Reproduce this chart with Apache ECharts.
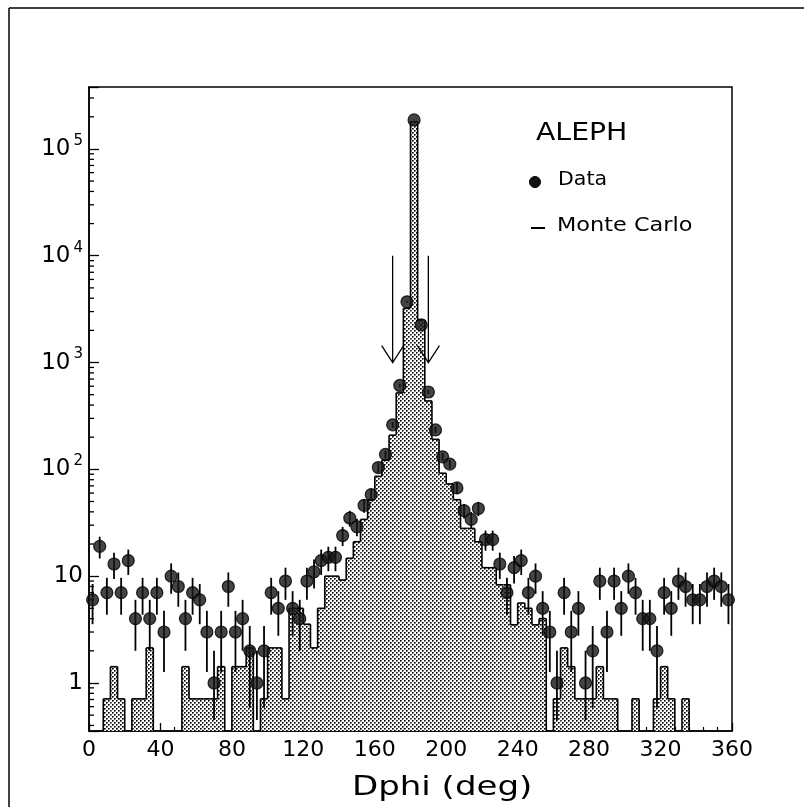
<!DOCTYPE html>
<html>
<head>
<meta charset="utf-8">
<script src="https://cdn.jsdelivr.net/npm/echarts@6/dist/echarts.min.js"></script>
<style>
html,body{margin:0;padding:0;background:#fff;}
#chart{width:804px;height:807px;}
</style>
</head>
<body>
<div id="chart"></div>
<script>
// ---- data (Dphi histogram, 4 degree bins from 0 to 360) ----
const binWidth = 4;
const binLow = [0,4,8,12,16,20,24,28,32,36,40,44,48,52,56,60,64,68,72,76,80,84,88,92,96,100,104,108,112,116,120,124,128,132,136,140,144,148,152,156,160,164,168,172,176,180,184,188,192,196,200,204,208,212,216,220,224,228,232,236,240,244,248,252,256,260,264,268,272,276,280,284,288,292,296,300,304,308,312,316,320,324,328,332,336,340,344,348,352,356];
const dataCounts = [6,19,7,13,7,14,4,7,4,7,3,10,8,4,7,6,3,1,3,8,3,4,2,1,2,7,5,9,5,4,9,11,14,15,15,24,35,29,46,58,104,138,261,610,3700,187000,2250,530,234,131,112,67,41,34,43,22,22,13,7,12,14,7,10,5,3,1,7,3,5,1,2,9,3,9,5,10,7,4,4,2,7,5,9,8,6,6,8,9,8,6];
const mcValues = [0,0,0.71,1.42,0.71,0,0.71,0.71,2.13,0,0,0,0,1.42,0.71,0.71,0.71,0.71,1.42,0,1.42,1.42,2.13,0,0.71,2.13,2.13,0.71,5.0,5.0,3.55,2.13,5.0,10,10,9.2,14.7,21,34,52,86,122,209,520,3220,180000,2500,437,191,92,73,52,28,28,21,12,12,8.3,8.3,3.5,5.6,5,3.5,4,0,0.71,2.13,1.42,0.71,0.71,0.71,1.42,0.71,0.71,0,0,0.71,0,0,0.71,1.42,0.71,0,0.71,0,0,0,0,0,0];
const xTicks = [0,40,80,120,160,200,240,280,320,360];
const yMinorTicks = [0.4,0.5,0.6,0.7,0.8,0.9,2,3,4,5,6,7,8,9,20,30,40,50,60,70,80,90,200,300,400,500,600,700,800,900,2000,3000,4000,5000,6000,7000,8000,9000,20000,30000,40000,50000,60000,70000,80000,90000,200000,300000];
const cutArrows = [170,190];
const arrowFrom = 10000, arrowTo = 1000;

const chart = echarts.init(document.getElementById('chart'), null, {renderer:'canvas'});

// stipple pattern for the Monte Carlo histogram
const pc = document.createElement('canvas');
pc.width = 4; pc.height = 4;
const pctx = pc.getContext('2d');
pctx.fillStyle = '#fff'; pctx.fillRect(0,0,4,4);
pctx.fillStyle = '#000';
pctx.fillRect(0,0,1,1); pctx.fillRect(2,2,1,1);
pctx.fillStyle = '#555';
pctx.fillRect(1,0,1,1); pctx.fillRect(3,2,1,1); pctx.fillRect(0,1,1,1); pctx.fillRect(2,3,1,1);
pctx.fillStyle = '#aaa';
pctx.fillRect(1,1,1,1); pctx.fillRect(3,3,1,1);
const pattern = {image: pc, repeat: 'repeat'};

const FONT = 'DejaVu Sans';

function histItem(params, api) {
  const i = params.dataIndex;
  const cs = params.coordSys;
  const yb = cs.y + cs.height;
  const v = mcValues[i];
  const prev = i > 0 ? mcValues[i-1] : 0;
  const x0 = api.coord([binLow[i], 1])[0];
  const x1 = api.coord([binLow[i] + binWidth, 1])[0];
  const yv = v > 0 ? api.coord([binLow[i], v])[1] : yb;
  const yp = prev > 0 ? api.coord([binLow[i], prev])[1] : yb;
  const ch = [];
  const ls = {stroke:'#000', lineWidth:1.6};
  if (v > 0) {
    ch.push({type:'rect', shape:{x:x0, y:yv, width:x1-x0, height:yb-yv}, style:{fill:pattern}});
    ch.push({type:'line', shape:{x1:x0, y1:yv, x2:x1, y2:yv}, style:ls});
  }
  if (Math.abs(yp - yv) > 0.1) ch.push({type:'line', shape:{x1:x0, y1:yp, x2:x0, y2:yv}, style:ls});
  if (i === mcValues.length - 1 && v > 0) ch.push({type:'line', shape:{x1:x1, y1:yv, x2:x1, y2:yb}, style:ls});
  return {type:'group', children:ch};
}

function errItem(params, api) {
  const c = api.value(0), v = api.value(1);
  const e = Math.sqrt(v);
  const lo = Math.max(v - e, 0.45), hi = v + e;
  const p1 = api.coord([c, lo]), p2 = api.coord([c, hi]);
  return {type:'line', shape:{x1:p1[0], y1:p1[1], x2:p2[0], y2:p2[1]}, style:{stroke:'#000', lineWidth:1.8}};
}

function minorTickItem(params, api) {
  const p = api.coord([0, api.value(1)]);
  return {type:'line', shape:{x1:p[0], y1:p[1], x2:p[0]+5, y2:p[1]}, style:{stroke:'#000', lineWidth:1.3}};
}

function arrowItem(params, api) {
  const x = api.value(0);
  const a = api.coord([x, arrowFrom]), b = api.coord([x, arrowTo]);
  const s = {stroke:'#000', lineWidth:1.3, fill:null};
  return {type:'group', children:[
    {type:'line', shape:{x1:a[0], y1:a[1], x2:b[0], y2:b[1]}, style:s},
    {type:'polyline', shape:{points:[[b[0]-11, b[1]-17],[b[0], b[1]],[b[0]+11, b[1]-17]]}, style:s}
  ]};
}

const centers = binLow.map(b => b + binWidth/2);

const option = {
  animation: false,
  backgroundColor: '#fff',
  grid: {left: 89, right: 72, top: 87, bottom: 76, show: true, borderColor: '#000', borderWidth: 1.5, backgroundColor: 'transparent'},
  xAxis: {
    type: 'value', min: 0, max: 360, interval: 40,
    axisLine: {show: true, lineStyle: {color: '#000', width: 1.5}},
    axisTick: {show: true, inside: true, length: 8, lineStyle: {color: '#000', width: 1.3}},
    minorTick: {show: true, splitNumber: 5, length: 4, lineStyle: {color: '#000', width: 1.2}},
    axisLabel: {fontFamily: FONT, fontSize: 22, color: '#000', margin: 8,
      formatter: v => xTicks.indexOf(v) >= 0 ? String(v) : ''},
    splitLine: {show: false}
  },
  yAxis: {
    type: 'log', logBase: 10, min: 0.355, max: 380000,
    axisLine: {show: true, lineStyle: {color: '#000', width: 1.5}},
    axisTick: {show: true, inside: true, length: 10, lineStyle: {color: '#000', width: 1.3}},
    axisLabel: {
      fontFamily: FONT, fontSize: 23, color: '#000', margin: 6,
      formatter: function (v) {
        const l = Math.log10(v), e = Math.round(l);
        if (Math.abs(l - e) > 1e-6) return '';
        if (e === 0) return '1';
        if (e === 1) return '10';
        return '10{sup|' + e + '}';
      },
      rich: {sup: {fontFamily: FONT, fontSize: 15, color: '#000', padding: [0, 0, 16, 3]}}
    },
    splitLine: {show: false}
  },
  graphic: [
    {type: 'line', shape: {x1: 9, y1: 8, x2: 804, y2: 8}, style: {stroke: '#000', lineWidth: 1.5}},
    {type: 'line', shape: {x1: 9, y1: 8, x2: 9, y2: 807}, style: {stroke: '#000', lineWidth: 1.5}},
    {type: 'text', x: 536, y: 122, scaleX: 1.18, style: {text: 'ALEPH', fontFamily: FONT, fontSize: 24, fill: '#000'}},
    {type: 'circle', shape: {cx: 535, cy: 182, r: 5.5}, style: {fill: '#111', stroke: '#000', lineWidth: 1}},
    {type: 'text', x: 558, y: 171, scaleX: 1.08, style: {text: 'Data', fontFamily: FONT, fontSize: 19, fill: '#000'}},
    {type: 'line', shape: {x1: 531, y1: 228, x2: 545, y2: 228}, style: {stroke: '#000', lineWidth: 2}},
    {type: 'text', x: 557, y: 216, scaleX: 1.12, style: {text: 'Monte Carlo', fontFamily: FONT, fontSize: 20, fill: '#000'}},
    {type: 'text', x: 352, y: 774, scaleX: 1.26, style: {text: 'Dphi (deg)', fontFamily: FONT, fontSize: 27, fill: '#000'}}
  ],
  series: [
    {type: 'custom', name: 'Monte Carlo', renderItem: histItem, data: mcValues.map((v, i) => [centers[i], v]), encode: {x: 0, y: 1}, z: 2, silent: true},
    {type: 'custom', name: 'minor', renderItem: minorTickItem, data: yMinorTicks.map(v => [0, v]), encode: {x: 0, y: 1}, z: 3, silent: true},
    {type: 'custom', name: 'cut', renderItem: arrowItem, data: cutArrows.map(x => [x, arrowTo]), encode: {x: 0, y: 1}, z: 3, silent: true},
    {type: 'custom', name: 'errors', renderItem: errItem, data: dataCounts.map((v, i) => [centers[i], v]), encode: {x: 0, y: 1}, z: 4, silent: true},
    {type: 'scatter', name: 'Data', data: dataCounts.map((v, i) => [centers[i], v]), symbol: 'circle', symbolSize: 12,
      itemStyle: {color: '#151515', borderColor: '#000', borderWidth: 1.2}, z: 5, silent: true}
  ]
};
chart.setOption(option);
</script>
</body>
</html>
